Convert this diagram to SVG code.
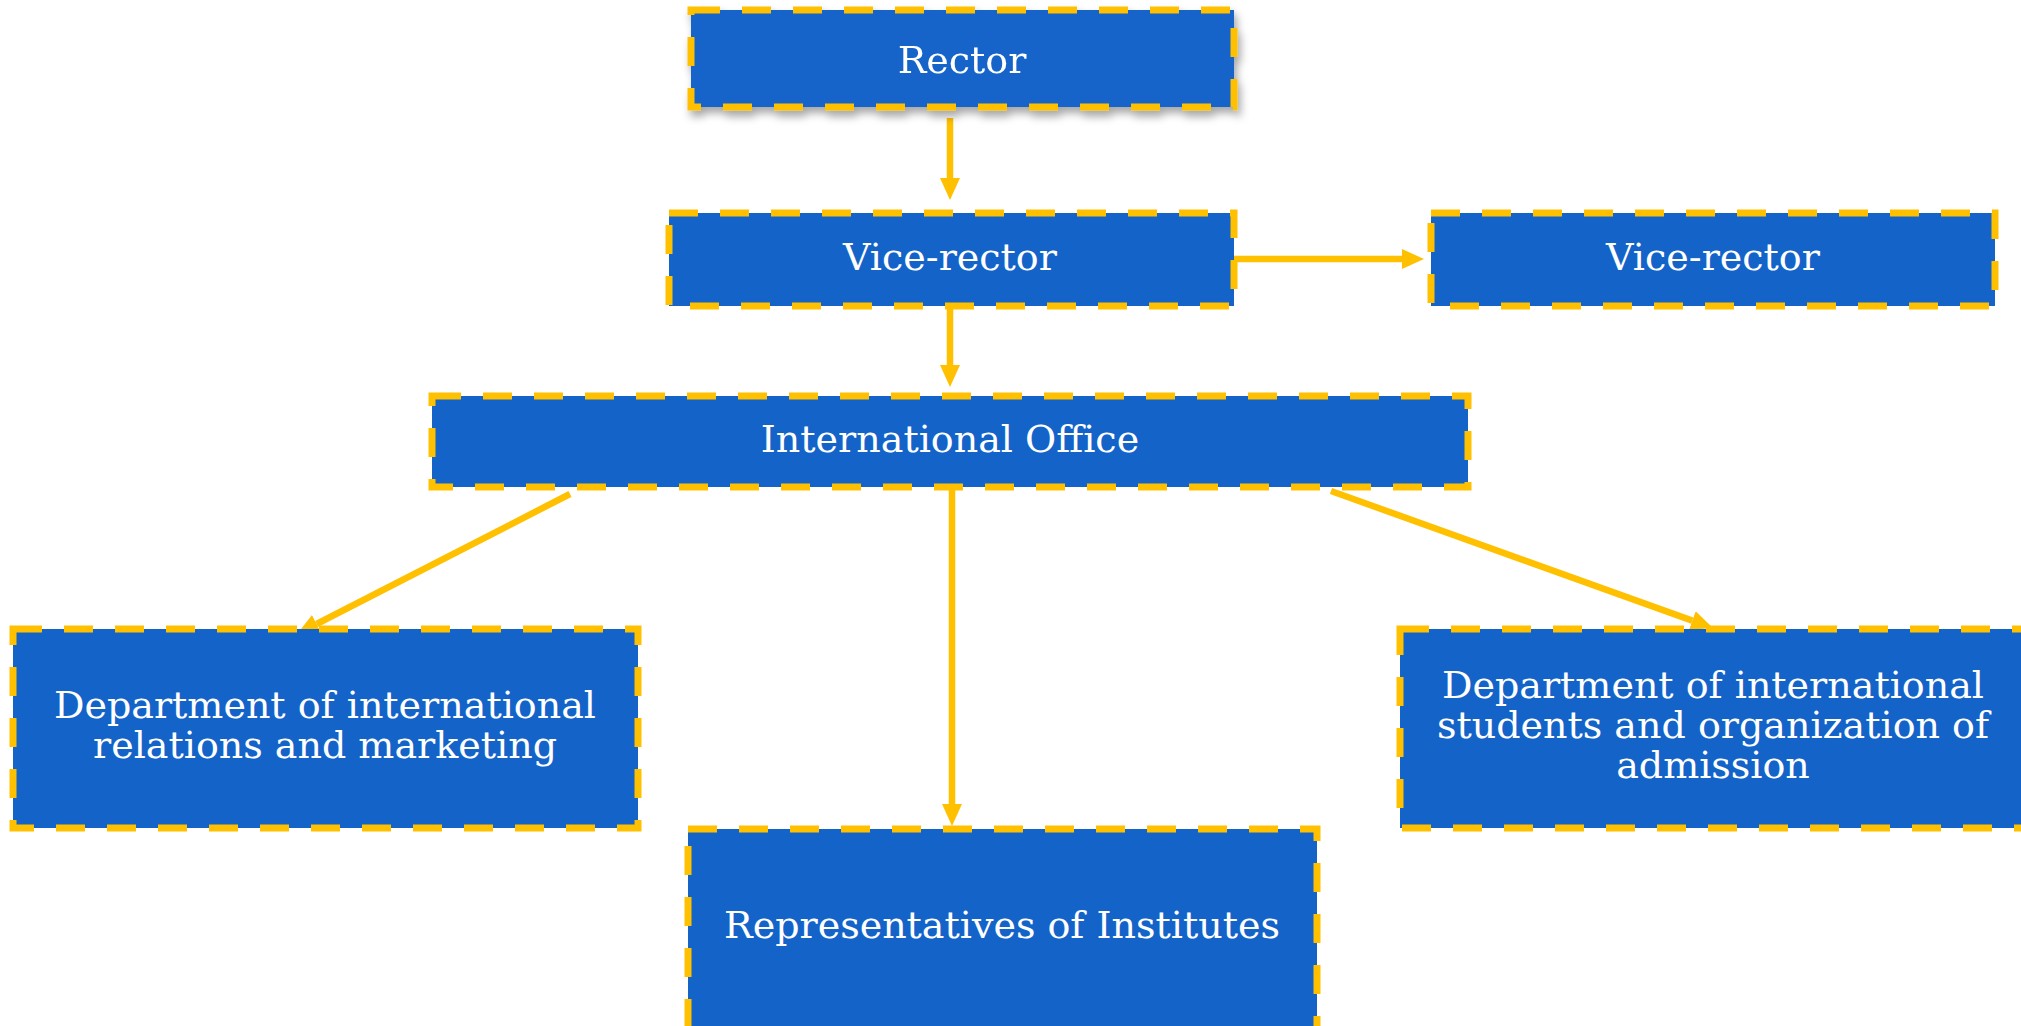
<svg xmlns="http://www.w3.org/2000/svg" width="2021" height="1026" viewBox="0 0 2021 1026">
<style>
.box{fill:#1463C9;stroke:#FFC000;stroke-width:7;stroke-dasharray:29 22;}
.lbl{font-family:"DejaVu Serif",serif;font-size:38px;fill:#FFFFFF;text-anchor:middle;}
.con{stroke:#FFC000;stroke-width:6.5;fill:none;marker-end:url(#ah);}
</style>
<defs>
<marker id="ah" markerUnits="userSpaceOnUse" markerWidth="22" markerHeight="20" refX="0" refY="10" orient="auto">
<path d="M0,0 L22,10 L0,20 z" fill="#FFC000"/>
</marker>
<filter id="sh" x="-10%" y="-20%" width="120%" height="150%">
<feDropShadow dx="3" dy="6" stdDeviation="4" flood-color="#000" flood-opacity="0.35"/>
</filter>
</defs>
<rect width="2021" height="1026" fill="#FFFFFF"/>
<g id="connectors">
<line class="con" x1="950" y1="118" x2="950" y2="178"/>
<line class="con" x1="1234" y1="259" x2="1402" y2="259"/>
<line class="con" x1="950" y1="307" x2="950" y2="365"/>
<line class="con" x1="570" y1="494" x2="316.6" y2="624"/>
<line class="con" x1="952" y1="490" x2="952" y2="804"/>
<line class="con" x1="1331" y1="491" x2="1692.3" y2="620.6"/>
</g>
<g id="rector" filter="url(#sh)">
<rect class="box" x="691" y="10" width="543" height="97"/>
<text class="lbl" x="962" y="73">Rector</text>
</g>
<g id="vice-rector-1">
<rect class="box" x="669" y="213" width="565" height="93"/>
<text class="lbl" x="950" y="270">Vice-rector</text>
</g>
<g id="vice-rector-2">
<rect class="box" x="1431" y="213" width="564" height="93"/>
<text class="lbl" x="1713" y="270">Vice-rector</text>
</g>
<g id="international-office">
<rect class="box" x="432" y="396" width="1036" height="91"/>
<text class="lbl" x="950" y="452">International Office</text>
</g>
<g id="dept-relations">
<rect class="box" x="13" y="629" width="625" height="199"/>
<text class="lbl" x="325" y="718">Department of international</text>
<text class="lbl" x="325" y="758">relations and marketing</text>
</g>
<g id="dept-students">
<rect class="box" x="1400" y="629" width="630" height="199"/>
<text class="lbl" x="1713" y="698">Department of international</text>
<text class="lbl" x="1713" y="738">students and organization of</text>
<text class="lbl" x="1713" y="778">admission</text>
</g>
<g id="representatives">
<rect class="box" x="688" y="829" width="629" height="210"/>
<text class="lbl" x="1002" y="938">Representatives of Institutes</text>
</g>
</svg>
